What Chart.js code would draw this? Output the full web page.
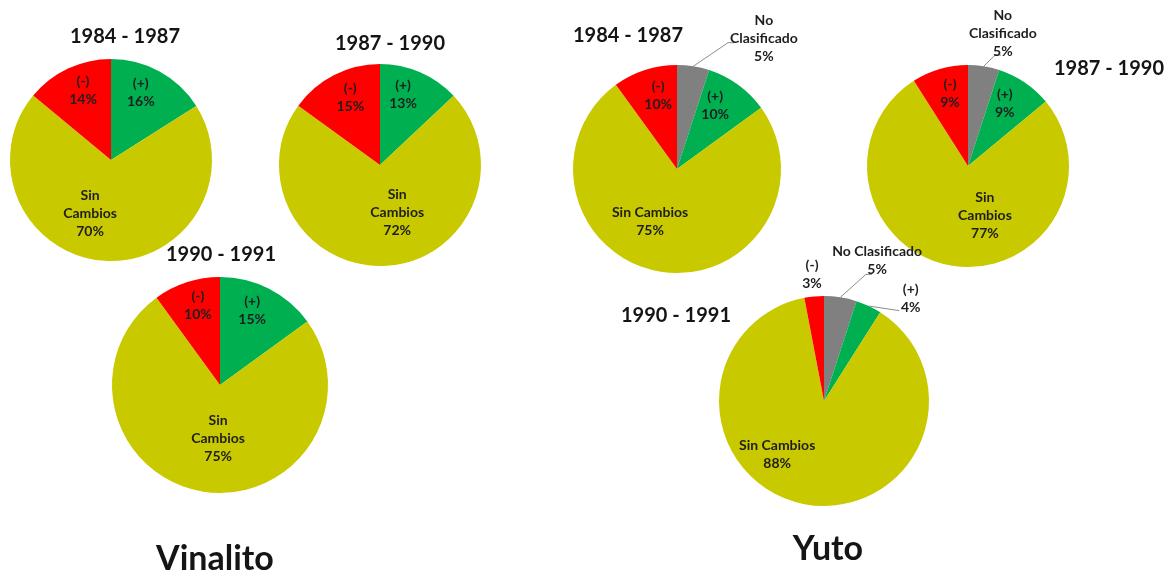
<!DOCTYPE html>
<html>
<head>
<meta charset="utf-8">
<script src="https://cdn.jsdelivr.net/npm/chart.js@4/dist/chart.umd.min.js"></script>
<style>
  html, body { margin: 0; padding: 0; background: #ffffff; }
  #wrap { position: relative; width: 1165px; height: 573px; overflow: hidden; background: #ffffff; }
  #wrap canvas { position: absolute; left: 0; top: 0; }
  .ttl { position: absolute; transform: translate(-50%, -50%); white-space: nowrap;
         font-family: Lato, "Open Sans", sans-serif; font-weight: bold; color: #151515; }
  .t20 { font-size: 20px; }
  .t34 { font-size: 34px; }
</style>
</head>
<body>
<div id="wrap"></div>
<script>
// ---------------- DATA ----------------
const sites = ['Vinalito', 'Yuto'];
const periods = ['1984 - 1987', '1987 - 1990', '1990 - 1991'];
const categoriesVinalito = ['(+)', 'Sin Cambios', '(-)'];
const categoriesYuto = ['No Clasificado', '(+)', 'Sin Cambios', '(-)'];
const vinalito8487 = [16, 70, 14];
const vinalito8790 = [13, 72, 15];
const vinalito9091 = [15, 75, 10];
const yuto8487 = [5, 10, 75, 10];
const yuto8790 = [5, 9, 77, 9];
const yuto9091 = [5, 4, 88, 3];

// ---------------- STYLE / LAYOUT ----------------
const W = 1165, H = 573;
const colorsVinalito = ['#00B050', '#C9C900', '#FF0000'];
const colorsYuto = ['#808080', '#00B050', '#C9C900', '#FF0000'];

// label layout: dA = angle shift from slice middle (deg), frac = distance / radius
const charts = [
  { cats: categoriesVinalito, values: vinalito8487, colors: colorsVinalito, cx: 111, cy: 160, r: 101,
    title: periods[0], tx: 125, ty: 35,
    labels: [ {dA: -5, frac: .73}, {dA: 17.7, frac: .57, wrap: true}, {dA: 3.2, frac: .74} ] },
  { cats: categoriesVinalito, values: vinalito8790, colors: colorsVinalito, cx: 380, cy: 165, r: 101,
    title: periods[1], tx: 390, ty: 42,
    labels: [ {dA: -5.2, frac: .73}, {dA: -16.3, frac: .50, wrap: true}, {dA: 3.2, frac: .73} ] },
  { cats: categoriesVinalito, values: vinalito9091, colors: colorsVinalito, cx: 220, cy: 385, r: 108,
    title: periods[2], tx: 221, ty: 253,
    labels: [ {dA: -3.6, frac: .75}, {dA: -7, frac: .50, wrap: true}, {dA: 2.4, frac: .76} ] },
  { cats: categoriesYuto, values: yuto8487, colors: colorsYuto, cx: 677, cy: 169, r: 104,
    title: periods[0], tx: 628, ty: 34,
    labels: [ {dA: 24.6, frac: 1.51, wrap: true, lead: {dA: 13, frac: 1.31, tick: 6}},
              {dA: -4.9, frac: .71}, {dA: 18, frac: .57}, {dA: 3.6, frac: .73} ] },
  { cats: categoriesYuto, values: yuto8790, colors: colorsYuto, cx: 968, cy: 166, r: 101,
    title: periods[1], tx: 1109, ty: 67,
    labels: [ {dA: 5.7, frac: 1.36, wrap: true, lead: {dA: 4.7, frac: 1.13, tick: 6}},
              {dA: -3.8, frac: .72}, {dA: -27.8, frac: .52, wrap: true}, {dA: 2.3, frac: .74} ] },
  { cats: categoriesYuto, values: yuto9091, colors: colorsYuto, cx: 824, cy: 401, r: 105,
    title: periods[2], tx: 676, ty: 314,
    labels: [ {dA: 11.7, frac: 1.43, lead: {dA: 9.3, frac: 1.27, tick: 6}},
              {dA: 15, frac: 1.28, lead: {dA: 14.6, frac: 1.12, tick: 0}},
              {dA: 30.2, frac: .68}, {dA: 0, frac: 1.21} ] }
];
const siteLabels = [ {text: sites[0], x: 215, y: 556}, {text: sites[1], x: 828, y: 546} ];

const LABEL_FONT = 'bold 14px Lato, "Open Sans", sans-serif';
const LINE_H = 18;

const labelPlugin = {
  id: 'sliceLabels',
  afterDatasetsDraw(chart, args, opts) {
    const ctx = chart.ctx;
    const meta = chart.getDatasetMeta(0);
    const ds = chart.data.datasets[0];
    meta.data.forEach((arc, i) => {
      const p = arc.getProps(['x', 'y', 'startAngle', 'endAngle', 'outerRadius'], true);
      const L = opts.labels[i];
      const mid = (p.startAngle + p.endAngle) / 2;
      const a = mid + L.dA * Math.PI / 180;
      const lx = p.x + Math.cos(a) * L.frac * p.outerRadius;
      const ly = p.y + Math.sin(a) * L.frac * p.outerRadius;
      const name = chart.data.labels[i];
      const lines = (L.wrap ? name.split(' ') : [name]).concat([ds.data[i] + '%']);
      if (L.lead) {
        const ea = mid;
        const ex = p.x + Math.cos(ea) * p.outerRadius;
        const ey = p.y + Math.sin(ea) * p.outerRadius;
        const la = mid + L.lead.dA * Math.PI / 180;
        const fx = p.x + Math.cos(la) * L.lead.frac * p.outerRadius;
        const fy = p.y + Math.sin(la) * L.lead.frac * p.outerRadius;
        ctx.save();
        ctx.strokeStyle = '#8c8c8c';
        ctx.lineWidth = 1;
        ctx.beginPath();
        ctx.moveTo(ex, ey);
        ctx.lineTo(fx, fy);
        if (L.lead.tick) ctx.lineTo(fx + L.lead.tick, fy);
        ctx.stroke();
        ctx.restore();
      }
      ctx.save();
      ctx.font = LABEL_FONT;
      ctx.fillStyle = '#1e1e1e';
      ctx.textAlign = 'center';
      ctx.textBaseline = 'middle';
      const y0 = ly - (lines.length - 1) * LINE_H / 2;
      lines.forEach((t, k) => ctx.fillText(t, lx, y0 + k * LINE_H));
      ctx.restore();
    });
  }
};

const wrap = document.getElementById('wrap');
charts.forEach(c => {
  const cv = document.createElement('canvas');
  cv.width = W; cv.height = H;
  cv.style.width = W + 'px'; cv.style.height = H + 'px';
  wrap.appendChild(cv);
  new Chart(cv.getContext('2d'), {
    type: 'pie',
    data: {
      labels: c.cats,
      datasets: [{ data: c.values, backgroundColor: c.colors, borderWidth: 0, hoverOffset: 0, offset: 0 }]
    },
    options: {
      responsive: false,
      animation: false,
      devicePixelRatio: 1,
      events: [],
      rotation: 0,
      layout: { padding: { left: c.cx - c.r, top: c.cy - c.r, right: W - c.cx - c.r, bottom: H - c.cy - c.r } },
      plugins: { legend: { display: false }, tooltip: { enabled: false }, sliceLabels: { labels: c.labels } }
    },
    plugins: [labelPlugin]
  });
  const t = document.createElement('div');
  t.className = 'ttl t20';
  t.style.left = c.tx + 'px'; t.style.top = c.ty + 'px';
  t.textContent = c.title;
  wrap.appendChild(t);
});
siteLabels.forEach(s => {
  const t = document.createElement('div');
  t.className = 'ttl t34';
  t.style.left = s.x + 'px'; t.style.top = s.y + 'px';
  t.textContent = s.text;
  wrap.appendChild(t);
});
</script>
</body>
</html>
